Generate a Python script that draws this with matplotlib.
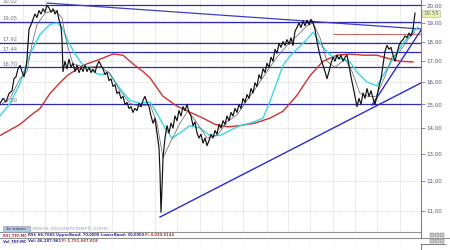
import numpy as np
import matplotlib
matplotlib.use("Agg")
import matplotlib.pyplot as plt
from matplotlib.ticker import NullLocator
from matplotlib.patches import Rectangle

# ---------------- data ----------------
price_day = [0, 3, 6, 9, 12, 14, 16, 18, 20, 22, 24, 26, 27, 29, 31, 33, 35, 37, 39, 41, 43, 45, 47, 49,
             51, 53, 55, 57, 59, 61, 62, 63, 65, 67, 69, 71, 73, 75, 77, 79, 81, 83, 85, 87, 89, 91, 93,
             95, 97, 99, 101, 103, 105, 107, 109, 111, 113, 115, 117, 119, 121, 123, 125, 127, 129, 131,
             133, 135, 137, 139, 141, 143, 145, 147, 149, 151, 153, 155, 157, 159, 160, 161, 162, 163,
             165, 167, 169, 171, 173, 175, 177, 179, 181, 183, 185, 187, 189, 191, 193, 195, 197, 199,
             201, 203, 205, 207, 209, 211, 213, 215, 217, 219, 221, 223, 225, 227, 229, 231, 233, 235,
             237, 239, 241, 243, 245, 247, 249, 251, 253, 255, 257, 259, 261, 263, 265, 267, 269, 271,
             273, 275, 277, 279, 281, 283, 285, 287, 289, 291, 293, 295, 297, 299, 301, 303, 305, 307,
             309, 311, 313, 315, 317, 319, 321, 323, 325, 327, 329, 331, 333, 335, 337, 339, 341, 343,
             345, 347, 349, 351, 353, 355, 357, 359, 361, 363, 365, 367, 369, 371, 373, 375, 377, 379,
             381, 383, 385, 387, 389, 391, 393, 395, 397, 399, 401, 403, 405, 407, 409, 411, 413, 415]
price_close = [15.04, 15.26, 15.10, 15.48, 15.60, 16.16, 16.25, 16.63, 16.80, 16.50, 16.25, 16.70, 17.10,
               18.65, 18.90, 19.20, 19.50, 19.30, 19.70, 19.50, 19.80, 19.60, 20.00, 19.85, 19.60, 19.80,
               19.50, 19.70, 19.20, 18.80, 18.10, 16.50, 17.00, 16.63, 17.10, 16.70, 16.90, 16.50, 16.80,
               16.45, 16.70, 16.50, 16.80, 16.50, 16.70, 16.45, 16.60, 16.45, 16.80, 17.00, 16.80, 16.63,
               16.35, 16.45, 16.07, 16.15, 15.80, 15.88, 15.48, 15.56, 15.26, 15.35, 15.00, 15.08, 14.82,
               14.90, 14.65, 14.82, 14.73, 15.04, 14.90, 15.17, 15.35, 15.08, 14.90, 14.50, 14.20, 14.40,
               13.80, 13.22, 12.30, 10.96, 11.78, 12.84, 13.60, 14.10, 13.80, 14.20, 14.00, 14.50, 14.30,
               14.73, 14.50, 14.90, 14.73, 15.00, 14.65, 14.50, 14.10, 14.25, 13.80, 13.60, 13.75, 13.40,
               13.60, 13.30, 13.50, 13.75, 13.60, 13.90, 13.75, 14.15, 14.00, 14.30, 14.15, 14.50, 14.30,
               14.65, 14.50, 14.82, 14.65, 15.00, 14.82, 15.26, 15.08, 15.43, 15.26, 15.70, 15.50, 15.97,
               15.80, 16.35, 16.15, 16.63, 16.45, 16.90, 16.70, 17.20, 17.00, 17.60, 17.40, 17.90, 17.70,
               18.00, 17.80, 18.10, 17.86, 18.20, 17.80, 18.55, 18.75, 19.00, 18.75, 19.10, 18.85, 19.15,
               18.90, 19.20, 19.00, 18.65, 18.00, 17.50, 17.10, 16.80, 16.50, 16.16, 16.50, 16.90, 17.20,
               17.00, 17.30, 17.10, 17.30, 17.00, 17.20, 17.30, 16.80, 16.25, 15.80, 15.35, 14.90, 15.26,
               15.00, 15.50, 15.26, 15.70, 15.35, 15.60, 15.26, 15.00, 15.35, 15.80, 16.16, 16.80, 17.50,
               17.80, 17.60, 17.70, 17.30, 17.00, 17.40, 17.80, 18.00, 18.10, 18.30, 18.20, 18.45, 18.30,
               18.65, 19.55]

fast_ma_day = [0, 10, 20, 27, 32, 37, 45, 55, 62, 67, 73, 85, 100, 110, 120, 130, 140, 150, 157, 163,
               170, 180, 188, 197, 207, 217, 227, 237, 247, 257, 267, 277, 287, 297, 307, 313, 320, 327,
               335, 345, 352, 360, 368, 376, 384, 392, 400, 408, 415]
fast_ma = [14.95, 15.26, 16.16, 16.50, 17.86, 18.90, 19.55, 19.70, 19.30, 17.86, 16.87, 16.70, 16.75,
           16.40, 15.60, 15.04, 14.90, 15.00, 14.20, 12.84, 13.40, 14.20, 14.73, 14.20, 13.60, 13.70,
           14.25, 14.55, 15.17, 15.80, 16.50, 17.20, 17.80, 18.30, 18.85, 19.00, 18.20, 17.00, 16.70,
           17.10, 16.50, 15.48, 15.35, 15.35, 16.16, 17.20, 17.50, 18.12, 18.50]

mid_ma_day = [0, 10, 20, 30, 40, 50, 57, 62, 67, 75, 82, 90, 97, 103, 108, 113, 120, 130, 140, 150,
              157, 165, 172, 180, 190, 200, 210, 220, 230, 240, 250, 257, 263, 270, 277, 283, 290, 297,
              300, 307, 313, 320, 327, 333, 343, 350, 357, 367, 377, 383, 393, 403, 413, 418]
mid_ma = [14.50, 15.04, 15.93, 17.36, 18.38, 18.92, 19.00, 18.75, 18.12, 17.36, 16.87, 16.63, 16.39,
          16.35, 16.50, 16.16, 15.70, 15.17, 15.04, 15.10, 14.61, 14.00, 13.60, 13.80, 14.10, 14.00,
          13.70, 13.70, 13.90, 14.10, 14.20, 14.30, 14.41, 15.13, 16.00, 16.80, 17.26, 17.61, 17.75,
          18.12, 18.50, 17.92, 17.46, 17.21, 17.11, 16.96, 16.47, 16.00, 15.83, 16.30, 17.11, 17.92,
          18.50, 18.77]

slow_ma_day = [0, 20, 30, 40, 50, 60, 67, 83, 100, 113, 123, 133, 143, 150, 163, 177, 193, 203, 215,
               228, 240, 255, 270, 283, 297, 310, 323, 337, 350, 363, 377, 390, 400, 413]
slow_ma = [13.70, 14.15, 14.50, 14.82, 15.48, 15.97, 16.30, 16.80, 17.10, 17.36, 17.30, 16.87, 16.50,
           16.20, 15.35, 14.92, 14.60, 14.41, 14.15, 14.05, 14.10, 14.20, 14.41, 14.70, 15.40, 16.30,
           17.00, 17.30, 17.36, 17.30, 17.30, 17.11, 17.00, 16.96]

levels = [20.02, 19.05, 17.92, 17.44, 16.70, 15.00]
level_labels = ["20.02", "19.05", "17.92", "17.44", "16.70", "15.00"]

trend_down = ([47, 421], [20.13, 18.67])
trend_up_long = ([160, 421], [10.81, 15.96])
trend_up_short = ([372, 421], [14.97, 18.61])
red_level = ([333, 421], 18.40)

last_price = 19.55
axis_ticks = [11, 12, 13, 14, 15, 16, 17, 18, 19, 20]
month_marks = [23, 45, 67, 90, 112, 133, 155, 177, 200, 222, 243, 267, 288, 310, 333, 355, 377, 400]

rsi_parts = [("RSI_TEF.MC ", "#c03030"), ("RSI: 66,7665 ", "#3030a0"),
             ("UpperBand: 70,0000 ", "#3030a0"), ("LowerBand: 30,0000 ", "#3030a0"),
             ("P: 4.030,6144", "#c03030")]
vol_parts = [("Vol_TEF.MC ", "#3030a0"), ("Vol: 46.287.962 ", "#3030a0"),
             ("P: 1.751.667.018", "#c03030")]

# ---------------- figure ----------------
W, H = 450, 250
fig = plt.figure(figsize=(4.5, 2.5), dpi=100)
fig.patch.set_facecolor("white")


def box(x0, y0, x1, y1):
    return [x0 / W, 1 - y1 / H, (x1 - x0) / W, (y1 - y0) / H]


ax = fig.add_axes(box(0, 0, 421, 232))
ax.set_yscale("log")
ax.set_xlim(0, 421)
ax.set_ylim(10.35, 20.31)
ax.set_facecolor("white")

# grid
for d in month_marks:
    ax.axvline(d, color="#c8c8c8", lw=0.5, ls=(0, (1.5, 1.5)), zorder=0)
for t in axis_ticks:
    ax.axhline(t, color="#c8c8c8", lw=0.5, ls=(0, (1.5, 1.5)), zorder=0)

# horizontal levels
for lv, lab in zip(levels, level_labels):
    ax.axhline(lv, color="#2a2ab4", lw=0.9, zorder=2)
    ax.annotate(lab, xy=(0, lv), xytext=(2, 0.6), textcoords="offset points",
                fontsize=3.8, color="#707090", va="bottom", ha="left", zorder=6)

ax.plot(red_level[0], [red_level[1]] * 2, color="#c04848", lw=0.6, zorder=2)

# trend lines
ax.plot(*trend_down, color="#3c3cc0", lw=0.9, zorder=3)
ax.plot(*trend_up_long, color="#2a2ad0", lw=1.0, zorder=3)
ax.plot(*trend_up_short, color="#2a2ad0", lw=1.0, zorder=3)

# moving averages
ax.plot(slow_ma_day, slow_ma, color="#d03030", lw=1.0, zorder=4)
ax.plot(mid_ma_day, mid_ma, color="#38d8e8", lw=1.0, zorder=4)
ax.plot(fast_ma_day, fast_ma, color="#606060", lw=0.5, zorder=4)

# price
ax.plot(price_day, price_close, color="#101010", lw=0.85, zorder=5)

# axes styling
for s in ["left", "top"]:
    ax.spines[s].set_visible(False)
ax.spines["right"].set_color("#808080")
ax.spines["right"].set_linewidth(0.8)
ax.spines["bottom"].set_color("#909090")
ax.spines["bottom"].set_linewidth(0.8)
ax.yaxis.tick_right()
ax.yaxis.set_minor_locator(NullLocator())
ax.set_yticks(axis_ticks)
ax.set_yticklabels([f"{t:.2f}".replace(".", ",") for t in axis_ticks])
ax.tick_params(axis="y", which="major", length=3, width=0.5, color="#606060",
               labelsize=4, labelcolor="#505080", pad=1)
ax.set_xticks([])

# last price tag
ax.text(423, last_price, f"{last_price:.2f}".replace(".", ","), fontsize=4, color="#707070",
        va="center", ha="left", clip_on=False, zorder=7,
        bbox=dict(boxstyle="square,pad=0.2", fc="#f2f2b0", ec="#b0b0a0", lw=0.4))

# button + watermark
fig.patches.append(Rectangle((3 / W, 1 - 232 / H), 27 / W, 6 / H, transform=fig.transFigure,
                             fc="#b8c8dc", ec="#8090a8", lw=0.4, zorder=8))
fig.text(16.5 / W, 1 - 229 / H, "Sin órdenes", fontsize=2.4, color="#203050",
         ha="center", va="center", zorder=9)
fig.text(32 / W, 1 - 229 / H, "www.visualchart.com", fontsize=4.6, color="#c0c8d8",
         ha="left", va="center", fontweight="bold", zorder=9)

# lower panes
for yy in [238]:
    fig.add_artist(plt.Line2D([0, 1], [1 - yy / H] * 2, color="#909090", lw=0.8))
for d in month_marks:
    xx = d / W
    fig.add_artist(plt.Line2D([xx, xx], [0, 1 - 232 / H], color="#d8d8d8", lw=0.4, ls=":"))
fig.add_artist(plt.Line2D([421 / W] * 2, [0, 1 - 244 / H], color="#808080", lw=0.8))
fig.add_artist(plt.Line2D([421 / W, 445 / W], [1 - 244 / H] * 2, color="#808080", lw=0.8))
fig.add_artist(plt.Line2D([421 / W] * 2, [1 - 238 / H, 1 - 232 / H], color="#808080", lw=0.8))

fig.canvas.draw()
renderer = fig.canvas.get_renderer()


def text_row(parts, x0, y):
    x = x0 / W
    for s, c in parts:
        t = fig.text(x, 1 - y / H, s, fontsize=2.7, color=c, ha="left", va="center",
                     fontweight="bold")
        bb = t.get_window_extent(renderer)
        x += bb.width / fig.bbox.width


text_row(rsi_parts, 3, 235)
text_row(vol_parts, 3, 241)

# window buttons
for yy in [235, 241]:
    for i in range(3):
        fig.patches.append(Rectangle(((430 + 5 * i) / W, 1 - (yy + 2) / H), 4 / W, 4 / H,
                                     transform=fig.transFigure, fc="#c8c8c8", ec="#707070",
                                     lw=0.3))

fig.savefig("out.png", dpi=100, facecolor="white")
